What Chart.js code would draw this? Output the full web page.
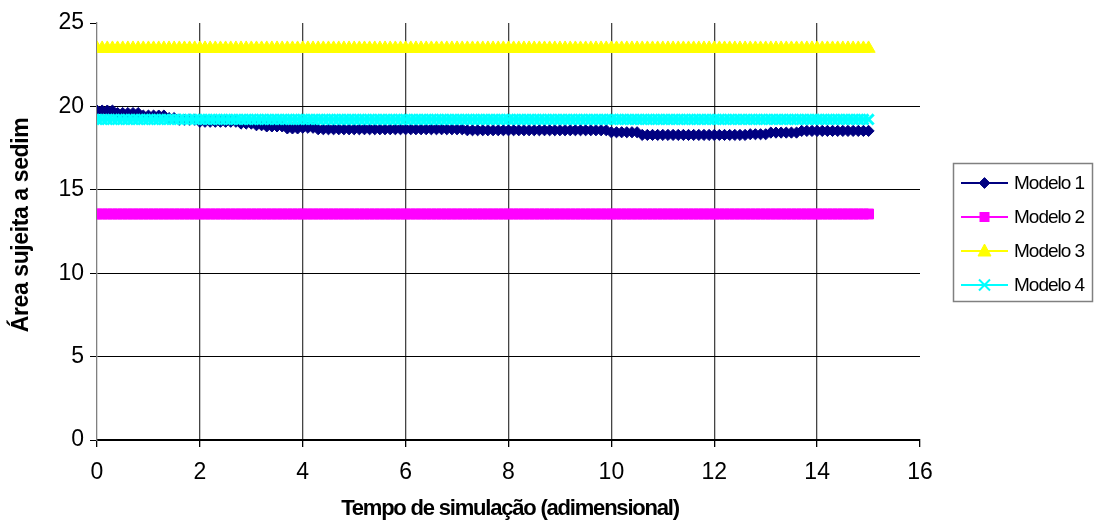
<!DOCTYPE html>
<html>
<head>
<meta charset="utf-8">
<script src="https://cdn.jsdelivr.net/npm/chart.js@4/dist/chart.umd.min.js"></script>
<style>
  html, body { margin: 0; padding: 0; background: #fff; overflow: hidden; }
  #wrap { width: 1104px; height: 523px; position: relative; }
</style>
</head>
<body>
<div id="wrap"><canvas id="c" width="1104" height="523"></canvas></div>
<script>
// Simulation time grid (adimensional), sampled every 0.1 from 0 to 15
const tempo = Array.from({ length: 151 }, (_, i) => i / 10);

// Área sujeita a sedimentação per model
const modelo1 = [
  19.75, 19.75, 19.75, 19.75, 19.6, 19.6, 19.6, 19.6, 19.6, 19.45,
  19.45, 19.45, 19.45, 19.45, 19.3, 19.3, 19.2, 19.2, 19.2, 19.2,
  19.08, 19.08, 19.08, 19.08, 19.08, 19.08, 19.08, 19.08, 18.97, 18.97,
  18.97, 18.87, 18.87, 18.8, 18.8, 18.8, 18.8, 18.68, 18.68, 18.68,
  18.72, 18.72, 18.72, 18.63, 18.63, 18.63, 18.63, 18.63, 18.63, 18.63,
  18.63, 18.63, 18.63, 18.63, 18.63, 18.63, 18.63, 18.63, 18.63, 18.63,
  18.63, 18.63, 18.63, 18.63, 18.63, 18.63, 18.63, 18.63, 18.63, 18.63,
  18.63, 18.63, 18.57, 18.57, 18.57, 18.57, 18.57, 18.57, 18.57, 18.57,
  18.57, 18.57, 18.57, 18.57, 18.57, 18.57, 18.57, 18.57, 18.57, 18.57,
  18.57, 18.57, 18.57, 18.57, 18.57, 18.57, 18.57, 18.57, 18.57, 18.57,
  18.45, 18.45, 18.45, 18.45, 18.45, 18.45, 18.29, 18.29, 18.29, 18.29,
  18.29, 18.29, 18.29, 18.29, 18.29, 18.29, 18.29, 18.29, 18.29, 18.29,
  18.29, 18.29, 18.29, 18.29, 18.29, 18.29, 18.29, 18.33, 18.33, 18.33,
  18.33, 18.43, 18.43, 18.43, 18.43, 18.43, 18.43, 18.53, 18.53, 18.53,
  18.53, 18.53, 18.53, 18.53, 18.53, 18.53, 18.53, 18.53, 18.53, 18.53,
  18.53
];
const nivelModelo2 = 13.55;
const nivelModelo3 = 23.47;
const nivelModelo4 = 19.22;
const modelo2 = Array(tempo.length).fill(nivelModelo2);
const modelo3 = Array(tempo.length).fill(nivelModelo3);
const modelo4 = Array(tempo.length).fill(nivelModelo4);

const nomes = ['Modelo 1', 'Modelo 2', 'Modelo 3', 'Modelo 4'];
const cores = ['#000080', '#FF00FF', '#FFFF00', '#00FFFF'];
const marcadores = ['rectRot', 'rect', 'triangle', 'crossRot'];
const raios = [5.6, 7, 7.6, 7.2];

const xTicks = [0, 2, 4, 6, 8, 10, 12, 14, 16];
const yTicks = [0, 5, 10, 15, 20, 25];

const FONT = '"Liberation Sans", Arial, sans-serif';

function serie(vals) {
  return tempo.map((t, i) => ({ x: t, y: vals[i] }));
}

const valores = [modelo1, modelo2, modelo3, modelo4];
const datasets = valores.map((v, k) => ({
  label: nomes[k],
  data: serie(v),
  borderColor: cores[k],
  backgroundColor: cores[k],
  borderWidth: 2,
  pointStyle: marcadores[k],
  pointRadius: raios[k],
  pointBorderWidth: k === 3 ? 3 : 1,
  pointBackgroundColor: cores[k],
  pointBorderColor: cores[k],
  order: 4 - k
}));

// Draws one legend marker at (x, y)
function marcador(ctx, estilo, cor, x, y) {
  ctx.save();
  ctx.fillStyle = cor;
  ctx.strokeStyle = cor;
  ctx.lineWidth = 1;
  ctx.beginPath();
  if (estilo === 'rectRot') {
    const r = 5.4;
    ctx.moveTo(x, y - r); ctx.lineTo(x + r, y); ctx.lineTo(x, y + r); ctx.lineTo(x - r, y);
    ctx.closePath(); ctx.fill(); ctx.stroke();
  } else if (estilo === 'rect') {
    ctx.rect(x - 5, y - 5, 10, 10); ctx.fill();
  } else if (estilo === 'triangle') {
    ctx.moveTo(x, y - 7); ctx.lineTo(x + 6.5, y + 5); ctx.lineTo(x - 6.5, y + 5);
    ctx.closePath(); ctx.fill(); ctx.stroke();
  } else {
    ctx.lineWidth = 2;
    const r = 5.5;
    ctx.moveTo(x - r, y - r); ctx.lineTo(x + r, y + r);
    ctx.moveTo(x + r, y - r); ctx.lineTo(x - r, y + r);
    ctx.stroke();
  }
  ctx.restore();
}

const decoracao = {
  id: 'decoracao',
  afterDraw(chart) {
    const ctx = chart.ctx;
    ctx.save();
    ctx.fillStyle = '#000';
    ctx.textBaseline = 'middle';
    ctx.textAlign = 'center';
    ctx.font = 'bold 22px ' + FONT;
    ctx.letterSpacing = '-1.2px';
    ctx.fillText('Tempo de simulação (adimensional)', 510, 509);
    ctx.save();
    ctx.translate(22, 225);
    ctx.rotate(-Math.PI / 2);
    ctx.font = 'bold 23px ' + FONT;
    ctx.letterSpacing = '-0.4px';
    ctx.fillText('Área sujeita a sedim', 0, 0);
    ctx.restore();

    // legend box
    ctx.strokeStyle = '#808080';
    ctx.lineWidth = 1.5;
    ctx.strokeRect(953.5, 163.5, 139, 138);
    ctx.textAlign = 'left';
    ctx.font = '19px ' + FONT;
    ctx.letterSpacing = '-1px';
    nomes.forEach((nome, k) => {
      const y = 183 + k * 34;
      ctx.strokeStyle = cores[k];
      ctx.lineWidth = 2;
      ctx.beginPath();
      ctx.moveTo(961, y); ctx.lineTo(1008, y);
      ctx.stroke();
      marcador(ctx, marcadores[k], cores[k], 984.5, y);
      ctx.fillStyle = '#000';
      ctx.fillText(nome, 1014, y + 1);
    });
    ctx.restore();
  }
};

new Chart(document.getElementById('c'), {
  type: 'line',
  data: { datasets },
  options: {
    responsive: false,
    animation: false,
    devicePixelRatio: 1,
    layout: { padding: { top: 23, right: 184, bottom: 0, left: 0 } },
    plugins: { legend: { display: false }, tooltip: { enabled: false } },
    scales: {
      x: {
        type: 'linear',
        min: 0,
        max: 16,
        afterBuildTicks: s => { s.ticks = xTicks.map(v => ({ value: v })); },
        afterFit: s => { s.height = 83; },
        ticks: { color: '#000', font: { family: FONT, size: 23 }, padding: 12, maxRotation: 0 },
        grid: {
          color: c => (c.tick && (c.tick.value === 0 || c.tick.value === 16)) ? 'rgba(0,0,0,0)' : '#444',
          lineWidth: 1.3,
          tickColor: '#000',
          tickLength: 7
        },
        border: { color: '#000', width: 1.3 }
      },
      y: {
        min: 0,
        max: 25,
        afterBuildTicks: s => { s.ticks = yTicks.map(v => ({ value: v })); },
        afterFit: s => { s.width = 97; },
        ticks: { color: '#000', font: { family: FONT, size: 23 }, padding: 6 },
        grid: {
          color: c => (c.tick && c.tick.value === 25) ? 'rgba(0,0,0,0)' : '#000',
          lineWidth: 1,
          tickColor: '#000',
          tickLength: 7
        },
        border: { color: '#808080', width: 1.3 }
      }
    }
  },
  plugins: [decoracao]
});
</script>
</body>
</html>
